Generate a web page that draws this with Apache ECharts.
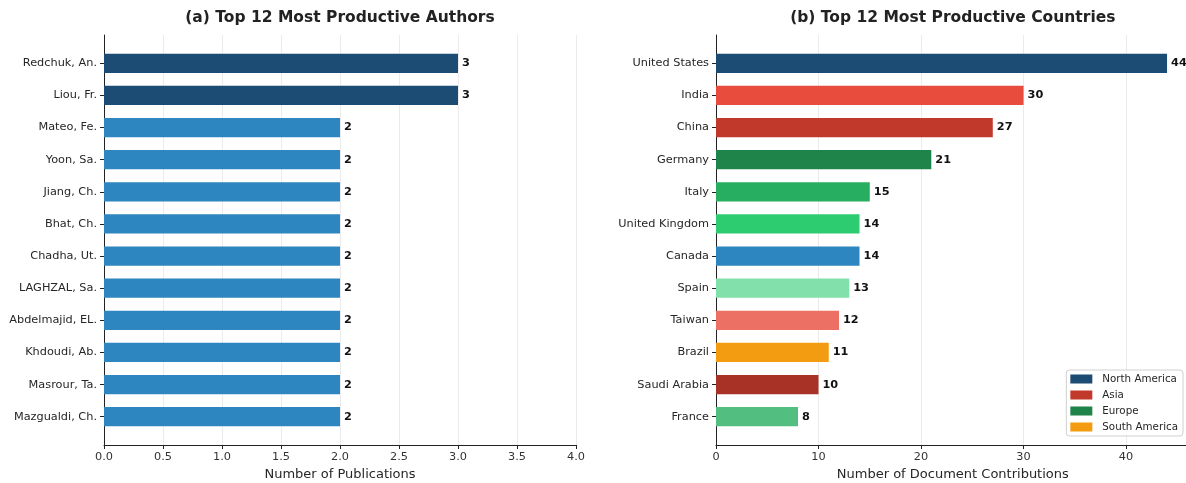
<!DOCTYPE html>
<html>
<head>
<meta charset="utf-8">
<script src="https://cdn.jsdelivr.net/npm/echarts@6/dist/echarts.min.js"></script>
<style>
html,body{margin:0;padding:0;background:#fff;}
#chart{width:1186px;height:483px;}
</style>
</head>
<body>
<div id="chart"></div>
<script>
// ---- data ----
const authors = ['Redchuk, An.', 'Liou, Fr.', 'Mateo, Fe.', 'Yoon, Sa.', 'Jiang, Ch.', 'Bhat, Ch.', 'Chadha, Ut.', 'LAGHZAL, Sa.', 'Abdelmajid, EL.', 'Khdoudi, Ab.', 'Masrour, Ta.', 'Mazgualdi, Ch.'];
const authorCounts = [3, 3, 2, 2, 2, 2, 2, 2, 2, 2, 2, 2];
const countries = ['United States', 'India', 'China', 'Germany', 'Italy', 'United Kingdom', 'Canada', 'Spain', 'Taiwan', 'Brazil', 'Saudi Arabia', 'France'];
const countryCounts = [44, 30, 27, 21, 15, 14, 14, 13, 12, 11, 10, 8];
const countryRegions = ['North America', 'Asia', 'Asia', 'Europe', 'Europe', 'Europe', 'North America', 'Europe', 'Asia', 'South America', 'Asia', 'Europe'];
const regions = ['North America', 'Asia', 'Europe', 'South America'];
const titles = ['(a) Top 12 Most Productive Authors', '(b) Top 12 Most Productive Countries'];
const axisNames = ['Number of Publications', 'Number of Document Contributions'];

// ---- styles ----
const authorTopColor = '#1c4b73';
const authorColor = '#2e86c1';
const countryColors = ['#1c4b73', '#e74c3c', '#c0392b', '#1e8449', '#27ae60', '#2ecc71', '#2e86c1', '#82e0aa', '#ec7063', '#f39c12', '#a93226', '#52be80'];
const regionColors = ['#1c4b73', '#c0392b', '#1e8449', '#f39c12'];
const FONT = 'DejaVu Sans';
const TXT = '#262626';

const chart = echarts.init(document.getElementById('chart'), null, {renderer: 'canvas'});

const maxAuthor = Math.max(...authorCounts);
const L = {left: 104, width: 472};
const R = {left: 716, width: 473.6};
const outerTop = 35, outerH = 410;
const innerTop = 47.2, innerH = 385.6;

function outerX(gi, max, interval, fmt, name) {
  return {
    type: 'value', gridIndex: gi, min: 0, max: max, interval: interval,
    axisLine: {show: true, onZero: false, lineStyle: {color: '#222', width: 1}},
    axisTick: {show: true, length: 4, lineStyle: {color: '#222'}},
    axisLabel: {fontFamily: FONT, fontSize: 11.3, color: '#333', margin: 7, formatter: fmt},
    splitLine: {show: true, lineStyle: {color: '#ebebeb', width: 1}},
    name: name, nameLocation: 'middle', nameGap: 22,
    nameTextStyle: {fontFamily: FONT, fontSize: 13, color: TXT}
  };
}
function outerY(gi) {
  return {
    type: 'value', gridIndex: gi, min: 0, max: 1,
    axisLine: {show: true, onZero: false, lineStyle: {color: '#222', width: 1}},
    axisTick: {show: false}, axisLabel: {show: false}, splitLine: {show: false}
  };
}
function innerY(gi, cats) {
  return {
    type: 'category', gridIndex: gi, data: cats, inverse: true,
    axisLine: {show: false},
    axisTick: {show: true, alignWithLabel: true, length: 4, lineStyle: {color: '#222'}},
    axisLabel: {fontFamily: FONT, fontSize: 11.3, color: TXT, margin: 7},
    splitLine: {show: false}
  };
}
function innerX(gi, max) {
  return {type: 'value', gridIndex: gi, min: 0, max: max, show: false, splitLine: {show: false}};
}

const barLabel = {show: true, position: 'right', distance: 4, fontFamily: FONT, fontSize: 11.3, fontWeight: 'bold', color: '#111'};

const option = {
  backgroundColor: '#fff',
  animation: false,
  title: [
    {text: titles[0], left: L.left + L.width / 2, top: 10, textAlign: 'center', padding: 0,
     textStyle: {fontFamily: FONT, fontSize: 15.5, fontWeight: 'bold', color: '#222'}},
    {text: titles[1], left: R.left + R.width / 2, top: 10, textAlign: 'center', padding: 0,
     textStyle: {fontFamily: FONT, fontSize: 15.5, fontWeight: 'bold', color: '#222'}}
  ],
  grid: [
    {left: L.left, top: outerTop, width: L.width, height: outerH, outerBoundsMode: 'none', containLabel: false},
    {left: L.left, top: innerTop, width: L.width, height: innerH, outerBoundsMode: 'none', containLabel: false},
    {left: R.left, top: outerTop, width: R.width, height: outerH, outerBoundsMode: 'none', containLabel: false},
    {left: R.left, top: innerTop, width: R.width, height: innerH, outerBoundsMode: 'none', containLabel: false}
  ],
  xAxis: [
    outerX(0, 4, 0.5, v => v.toFixed(1), axisNames[0]),
    innerX(1, 4),
    outerX(2, 46.2, 10, v => (v % 10 === 0 ? String(v) : ''), axisNames[1]),
    innerX(3, 46.2)
  ],
  yAxis: [outerY(0), innerY(1, authors), outerY(2), innerY(3, countries)],
  legend: {
    orient: 'vertical', right: 3, top: 370,
    data: regions, icon: 'rect', itemWidth: 22, itemHeight: 9, itemGap: 6,
    padding: [4, 5, 4, 4],
    borderColor: '#d0d0d0', borderWidth: 1, borderRadius: 3, backgroundColor: 'rgba(255,255,255,0.9)',
    textStyle: {fontFamily: FONT, fontSize: 10.3, color: TXT, padding: [0, 0, 0, 5]}
  },
  series: [
    {
      type: 'bar', xAxisIndex: 1, yAxisIndex: 1, barWidth: '60%',
      data: authorCounts.map(v => ({value: v, itemStyle: {color: v === maxAuthor ? authorTopColor : authorColor}})),
      label: barLabel
    },
    {
      type: 'bar', xAxisIndex: 3, yAxisIndex: 3, barWidth: '60%',
      data: countryCounts.map((v, i) => ({value: v, itemStyle: {color: countryColors[i]}})),
      label: barLabel
    }
  ].concat(regions.map((r, i) => ({
    name: r, type: 'line', xAxisIndex: 2, yAxisIndex: 2, data: [],
    itemStyle: {color: regionColors[i]}, lineStyle: {color: regionColors[i]}
  })))
};
chart.setOption(option);
</script>
</body>
</html>
